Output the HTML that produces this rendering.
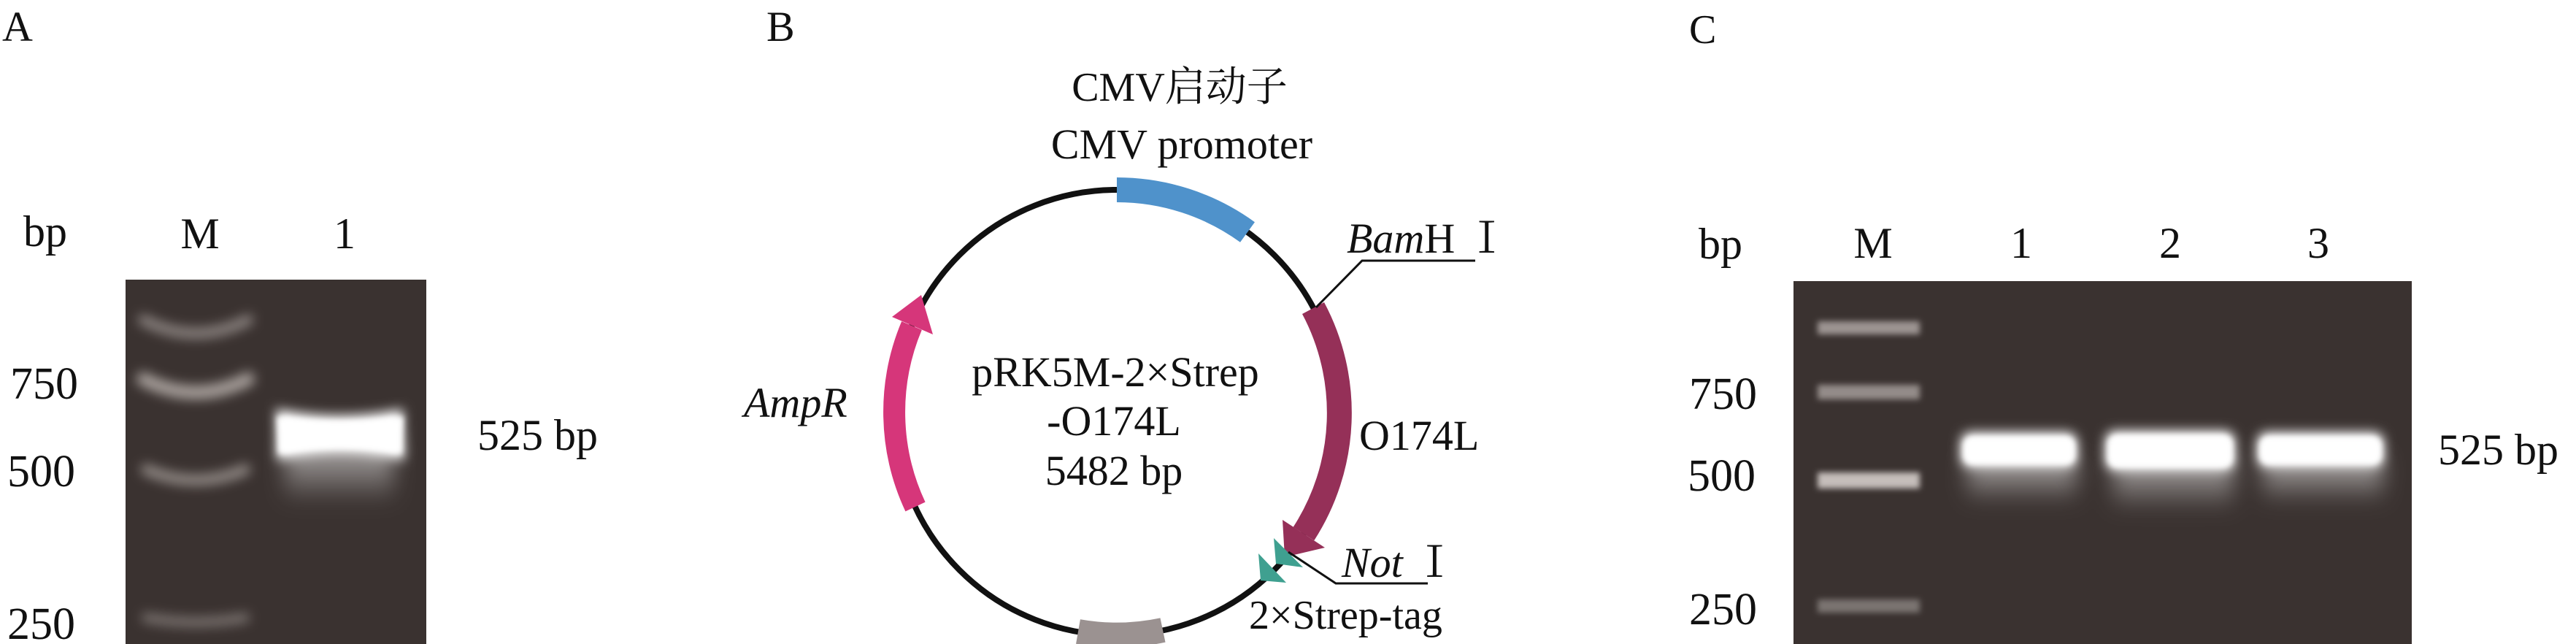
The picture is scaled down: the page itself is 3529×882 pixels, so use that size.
<!DOCTYPE html>
<html><head><meta charset="utf-8"><style>
html,body{margin:0;padding:0;background:#fff;}
svg{display:block;}
text{font-family:"Liberation Serif","Noto Serif CJK SC",serif;fill:#111;}
</style></head><body>
<svg width="3529" height="882" viewBox="0 0 3529 882" xmlns="http://www.w3.org/2000/svg">
<defs>
<filter id="b4" x="-20%" y="-50%" width="140%" height="200%"><feGaussianBlur stdDeviation="4"/></filter>
<filter id="b8" x="-20%" y="-80%" width="140%" height="260%"><feGaussianBlur stdDeviation="8"/></filter>
<filter id="b14" x="-20%" y="-80%" width="140%" height="260%"><feGaussianBlur stdDeviation="14"/></filter>
<linearGradient id="smear" x1="0" y1="0" x2="0" y2="1">
<stop offset="0" stop-color="#fff" stop-opacity="0.6"/><stop offset="1" stop-color="#fff" stop-opacity="0"/>
</linearGradient>
</defs>

<!-- Panel A -->
<text x="3" y="56" font-size="58">A</text>
<text x="32" y="337" font-size="60">bp</text>
<text x="274" y="340" font-size="60" text-anchor="middle">M</text>
<text x="472" y="340" font-size="60" text-anchor="middle">1</text>
<text x="14" y="546" font-size="62">750</text>
<text x="10" y="666" font-size="62">500</text>
<text x="10" y="875" font-size="62">250</text>
<text x="654" y="616" font-size="60">525 bp</text>
<rect x="172" y="383" width="412" height="499" fill="#3a3230"/>
<g fill="none" stroke="#c8c0bc" stroke-linecap="round" filter="url(#b8)">
<path d="M196 438 Q268 475 340 438" stroke-width="14" stroke-opacity="0.6"/>
<path d="M196 519 Q268 556 340 519" stroke-width="18" stroke-opacity="0.8"/>
<path d="M200 643 Q268 672 336 643" stroke-width="14" stroke-opacity="0.65"/>
<path d="M200 846 Q268 858 336 846" stroke-width="12" stroke-opacity="0.5"/>
</g>
<rect x="390" y="610" width="150" height="80" fill="url(#smear)" filter="url(#b14)"/>
<path d="M378 560 Q466 578 552 560 L554 630 Q466 612 380 630 Z" fill="#fff" filter="url(#b8)"/>
<path d="M380 570 Q466 584 552 570 L550 622 Q466 606 382 622 Z" fill="#fff" filter="url(#b4)"/>

<!-- Panel B -->
<text x="1050" y="56" font-size="58">B</text>
<text x="1616" y="138" font-size="56" text-anchor="middle">CMV启动子</text>
<text x="1619" y="217" font-size="58" text-anchor="middle">CMV promoter</text>
<circle cx="1530" cy="565" r="305" fill="none" stroke="#111" stroke-width="8"/>
<path d="M1530 260 A305 305 0 0 1 1709 318" fill="none" stroke="#4f92cb" stroke-width="34"/>
<path d="M1593 863 A305 305 0 0 1 1477 865" fill="none" stroke="#9b9291" stroke-width="34"/>
<path d="M1799 422 A305 305 0 0 1 1786 731" fill="none" stroke="#953058" stroke-width="34"/>
<polygon points="1757,712 1815,750 1760,763" fill="#953058"/>
<path d="M1254 694 A305 305 0 0 1 1249 446" fill="none" stroke="#d6367a" stroke-width="30"/>
<polygon points="1278,458 1222,434 1262,404" fill="#d6367a"/>
<polygon points="1745,737 1785,777 1748,772" fill="#3fa090"/>
<polygon points="1724,758 1762,798 1727,795" fill="#3fa090"/>
<polyline points="1803,421 1866,357 2021,357" fill="none" stroke="#111" stroke-width="3"/>
<text x="1845" y="346" font-size="58"><tspan font-style="italic">Bam</tspan>H Ⅰ</text>
<polyline points="1765,756 1830,799 1956,799" fill="none" stroke="#111" stroke-width="3"/>
<text x="1838" y="790" font-size="58"><tspan font-style="italic">Not</tspan> Ⅰ</text>
<text x="1711" y="861" font-size="56">2×Strep-tag</text>
<text x="1862" y="616" font-size="58">O174L</text>
<text x="1019" y="571" font-size="58" font-style="italic">AmpR</text>
<text x="1528" y="529" font-size="58" text-anchor="middle">pRK5M-2×Strep</text>
<text x="1526" y="596" font-size="58" text-anchor="middle">-O174L</text>
<text x="1526" y="664" font-size="58" text-anchor="middle">5482 bp</text>

<!-- Panel C -->
<text x="2314" y="59" font-size="56">C</text>
<text x="2327" y="354" font-size="60">bp</text>
<text x="2566" y="353" font-size="60" text-anchor="middle">M</text>
<text x="2769" y="353" font-size="60" text-anchor="middle">1</text>
<text x="2973" y="353" font-size="60" text-anchor="middle">2</text>
<text x="3176" y="353" font-size="60" text-anchor="middle">3</text>
<text x="2314" y="560" font-size="62">750</text>
<text x="2312" y="672" font-size="62">500</text>
<text x="2314" y="855" font-size="62">250</text>
<text x="3340" y="636" font-size="60">525 bp</text>
<rect x="2457" y="385" width="847" height="497" fill="#3a3230"/>
<g fill="#ddd6d2" filter="url(#b4)">
<rect x="2490" y="440" width="140" height="18" opacity="0.6"/>
<rect x="2490" y="527" width="140" height="20" opacity="0.55"/>
<rect x="2490" y="647" width="140" height="22" opacity="0.85"/>
<rect x="2490" y="821" width="140" height="18" opacity="0.4"/>
</g>
<g filter="url(#b14)">
<rect x="2695" y="630" width="150" height="60" fill="url(#smear)"/>
<rect x="2895" y="630" width="165" height="70" fill="url(#smear)"/>
<rect x="3100" y="630" width="165" height="60" fill="url(#smear)"/>
</g>
<g fill="#fff" filter="url(#b8)">
<rect x="2686" y="592" width="160" height="48" rx="14"/>
<rect x="2884" y="590" width="178" height="54" rx="14"/>
<rect x="3092" y="592" width="174" height="48" rx="14"/>
</g>
<g fill="#fff" filter="url(#b4)">
<rect x="2690" y="598" width="152" height="38" rx="12"/>
<rect x="2888" y="596" width="170" height="44" rx="12"/>
<rect x="3096" y="598" width="166" height="38" rx="12"/>
</g>
</svg>
</body></html>
